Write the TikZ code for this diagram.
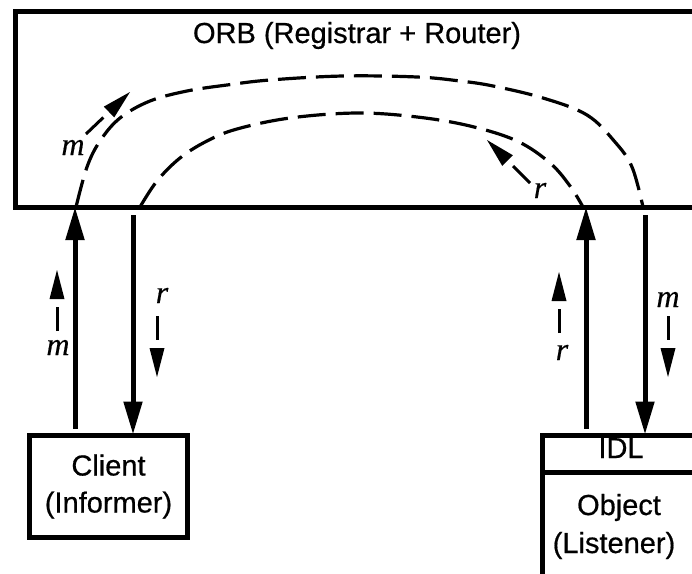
\documentclass[tikz,border=0pt]{standalone}
\usepackage{fontspec}
\setmainfont{Liberation Sans}[FakeBold=0.6]
\newfontfamily\timesf{Liberation Serif}[FakeBold=0.4]
\usetikzlibrary{arrows.meta,calc}
\newcommand\hintarr[2]{%
  \draw[line width=3pt] (#1) -- ($(#1)!24pt!(#2)$);
  \fill (#2) -- ($(#2)!29pt!(#1)!7.5pt!90:(#2)$) -- ($(#2)!29pt!(#1)!7.5pt!-90:(#2)$) -- cycle;}
\begin{document}
\begin{tikzpicture}[x=1pt,y=-1pt,
  box/.style={draw, line width=5pt, outer sep=0pt, inner sep=0pt},
  lbl/.style={font=\fontsize{29}{37}\selectfont, inner sep=0pt},
  var/.style={font=\timesf\fontsize{32}{32}\selectfont\itshape, inner sep=0pt},
  flow/.style={line width=5pt, -{Triangle[length=33pt,width=18pt]}},
  route/.style={line width=3.2pt, dash pattern=on 28pt off 10pt}]
\useasboundingbox (0,0) rectangle (692,573);
\begin{scope}
\clip (0,0) rectangle (692,573);
% ORB
\node[box, minimum width=700pt, minimum height=196pt] (orb) at (365,109) {};
\node[lbl, anchor=base] (title) at (357,43) {ORB (Registrar + Router)};
% Client
\node[box, minimum width=158pt, minimum height=102pt, align=center, lbl] (client) at (108.5,486.5) {Client\\(Informer)};
% Object
\node[box, minimum width=154pt, minimum height=170pt, anchor=north west] (obj) at (542.5,435.5) {};
\coordinate (idl) at (0,472);
\draw[line width=5pt] (obj.west |- idl) -- (obj.east |- idl);
\node[lbl, anchor=base] (idltext) at (621,458) {IDL};
\node[lbl, anchor=base] (objtext) at (619,515) {Object};
\node[lbl, anchor=base] (listtext) at (614,553) {(Listener)};
% main arrows
\coordinate (xa) at (75,0);
\coordinate (xb) at (133,0);
\coordinate (xc) at (586,0);
\coordinate (xd) at (645,0);
\draw[flow] ($(xa |- client.north)+(0,-7)$) -- (xa |- orb.south);
\draw[flow] ($(xb |- orb.south)+(0,8)$) -- ($(xb |- client.north)+(0,-1)$);
\draw[flow] ($(xc |- obj.north)+(0,-7)$) -- (xc |- orb.south);
\draw[flow] ($(xd |- orb.south)+(0,8)$) -- ($(xd |- obj.north)+(0,-1)$);
% hint arrows
\coordinate (h1s) at (57,331); \coordinate (h1e) at (57,270);
\coordinate (h2s) at (157,316); \coordinate (h2e) at (157,377);
\coordinate (h3s) at (559,333); \coordinate (h3e) at (559,272);
\coordinate (h4s) at (668,316); \coordinate (h4e) at (668,377);
\coordinate (h5s) at (86,134); \coordinate (h5e) at (130,92);
\coordinate (h6s) at (530,183); \coordinate (h6e) at (487,140);
\hintarr{h1s}{h1e}
\hintarr{h2s}{h2e}
\hintarr{h3s}{h3e}
\hintarr{h4s}{h4e}
\hintarr{h5s}{h5e}
\hintarr{h6s}{h6e}
\node[var, anchor=base] (m1) at (58,355) {m};
\node[var, anchor=base] (r1) at (162,303) {r};
\node[var, anchor=base] (r2) at (562,360) {r};
\node[var, anchor=base] (m2) at (668,307) {m};
\node[var, anchor=base] (m3) at (73,155) {m};
\node[var, anchor=base] (r3) at (540,198) {r};
% dashed routes inside ORB
\draw[route] plot[smooth, tension=0.6] coordinates {(76,207) (87,167) (100,141) (120,118) (150,101) (187,91) (227,85) (270,80) (343,76) (417,77) (460,81) (493,86) (543,98) (587,115) (615,142) (632,167) (643,207)};
\draw[route] plot[smooth, tension=0.6] coordinates {(140,207) (157,181) (180,158) (207,141) (237,129) (290,118) (357,113) (417,117) (470,126) (517,141) (550,163) (570,186) (583,207)};
\end{scope}
\end{tikzpicture}
\end{document}
